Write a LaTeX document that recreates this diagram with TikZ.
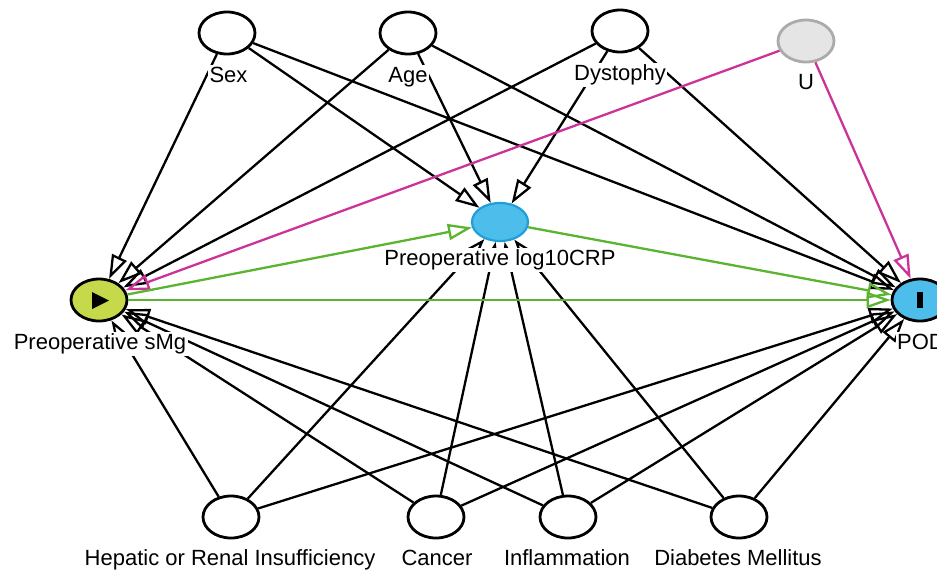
\documentclass[tikz,border=0pt]{standalone}
\usepackage{fontspec}
\setmainfont{Liberation Sans}
\usetikzlibrary{arrows.meta,shapes.geometric}
\definecolor{expo}{HTML}{C5D94B}
\definecolor{outc}{HTML}{4DBDEB}
\definecolor{crpb}{HTML}{1E9FDA}
\definecolor{latf}{HTML}{E5E5E5}
\definecolor{latb}{HTML}{ABABAB}
\definecolor{cgreen}{HTML}{5BB431}
\definecolor{cmag}{HTML}{CC3399}
\tikzset{
 var/.style={ellipse,draw=black,line width=2.8pt,fill=white,minimum width=56pt,minimum height=42pt,inner sep=0pt},
 expvar/.style={var,fill=expo},
 outvar/.style={var,fill=outc},
 medvar/.style={var,fill=outc,draw=crpb,line width=2.2pt,minimum height=38pt},
 latvar/.style={var,fill=latf,draw=latb},
 lab/.style={anchor=base,fill=white,inner sep=1.5pt,text height=16pt,text depth=5pt,font=\fontsize{22}{26}\selectfont},
 edge/.style={line width=2.3pt,line join=miter,-{Triangle[open,length=24pt,width=16pt]}},
 gedge/.style={edge,draw=cgreen},
 medge/.style={edge,draw=cmag},
}
\begin{document}
\begin{tikzpicture}[x=1pt,y=-1pt]
\useasboundingbox (0,0) rectangle (937,574);
\clip (0,0) rectangle (937,574);
% nodes
\node[var] (sex) at (227,33) {};
\node[var] (age) at (408,33) {};
\node[var] (dys) at (620,31) {};
\node[latvar] (u) at (806,41) {};
\node[medvar] (crp) at (500,222) {};
\node[expvar] (smg) at (99,300) {};
\node[outvar] (pod) at (920,300) {};
\node[var] (hep) at (231,517) {};
\node[var] (can) at (436,517) {};
\node[var] (inf) at (568,517) {};
\node[var] (dia) at (739,517) {};
% edges
\foreach \s in {sex,age,dys,hep,can,inf,dia}{
  \draw[edge] (\s) -- (smg);
  \draw[edge] (\s) -- (crp);
  \draw[edge] (\s) -- (pod);
}
\draw[medge] (u) -- (smg);
\draw[medge] (u) -- (pod);
\draw[gedge] (smg) -- (crp);
\draw[gedge] (smg) -- (pod);
\draw[gedge] (crp) -- (pod);
% symbols
\fill[black] (92,292) -- (92,309) -- (109,300.5) -- cycle;
\fill[black] (917,292) rectangle (922.5,308);
% labels
\node[lab] (lsex) at (228.5,82) {Sex};
\node[lab] (lage) at (408,82) {Age};
\node[lab] (ldys) at (620,80) {Dystophy};
\node[lab] (lu) at (806,89) {U};
\node[lab] (lcrp) at (500,265) {Preoperative log10CRP};
\node[lab] (lsmg) at (100,349) {Preoperative sMg};
\node[lab] (lpod) at (921,349) {POD};
\node[lab] (lhep) at (230,565) {Hepatic or Renal Insufficiency};
\node[lab] (lcan) at (437,565) {Cancer};
\node[lab] (linf) at (567,565) {Inflammation};
\node[lab] (ldia) at (738,565) {Diabetes Mellitus};
\end{tikzpicture}
\end{document}
